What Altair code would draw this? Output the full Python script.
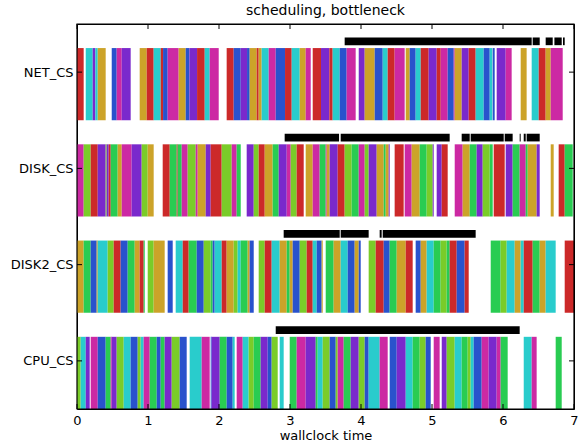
import altair as alt
import pandas as pd

# Row names (y position 0..3 from bottom to top)
ROWS = ["CPU_CS", "DISK2_CS", "DISK_CS", "NET_CS"]
X_TICKS = [0, 1, 2, 3, 4, 5, 6, 7]

COLORS = {
    "red": "#cc2929",
    "gold": "#cca329",
    "lime": "#7acc29",
    "green": "#29cc52",
    "cyan": "#29cccc",
    "blue": "#2952cc",
    "purple": "#7a29cc",
    "magenta": "#cc29a3",
}

NET_CS = [
    (0.000, 0.094, "red"), (0.123, 0.221, "cyan"), (0.221, 0.259, "purple"),
    (0.259, 0.292, "cyan"), (0.292, 0.404, "gold"), (0.489, 0.559, "blue"),
    (0.559, 0.630, "magenta"), (0.630, 0.756, "purple"), (0.883, 0.982, "gold"),
    (0.982, 1.080, "red"), (1.080, 1.179, "cyan"), (1.179, 1.212, "red"),
    (1.212, 1.277, "blue"), (1.277, 1.432, "magenta"), (1.432, 1.531, "gold"),
    (1.531, 1.583, "blue"), (1.583, 1.691, "purple"), (1.691, 1.799, "red"),
    (1.799, 1.869, "cyan"), (1.869, 1.996, "magenta"), (2.108, 2.207, "red"),
    (2.207, 2.306, "blue"), (2.306, 2.395, "purple"), (2.395, 2.432, "blue"),
    (2.432, 2.531, "gold"), (2.531, 2.559, "red"), (2.559, 2.601, "gold"),
    (2.601, 2.700, "cyan"), (2.700, 2.799, "magenta"), (2.799, 2.930, "blue"),
    (2.930, 3.024, "red"), (3.024, 3.137, "cyan"), (3.137, 3.221, "gold"),
    (3.221, 3.292, "magenta"), (3.320, 3.437, "red"), (3.437, 3.554, "purple"),
    (3.554, 3.601, "red"), (3.601, 3.700, "cyan"), (3.700, 3.798, "blue"),
    (3.798, 3.925, "magenta"), (3.968, 4.052, "purple"), (4.052, 4.193, "gold"),
    (4.193, 4.306, "blue"), (4.306, 4.376, "cyan"), (4.376, 4.474, "red"),
    (4.474, 4.615, "magenta"), (4.630, 4.686, "gold"), (4.686, 4.770, "blue"),
    (4.770, 4.841, "cyan"), (4.841, 4.953, "red"), (4.953, 5.066, "purple"),
    (5.066, 5.123, "red"), (5.123, 5.221, "magenta"), (5.221, 5.306, "blue"),
    (5.306, 5.320, "magenta"), (5.320, 5.418, "gold"), (5.418, 5.517, "purple"),
    (5.517, 5.615, "red"), (5.615, 5.728, "cyan"), (5.728, 5.813, "blue"),
    (5.813, 5.850, "cyan"), (5.855, 5.883, "blue"), (5.911, 6.038, "purple"),
    (6.038, 6.122, "magenta"), (6.249, 6.333, "gold"), (6.404, 6.503, "cyan"),
    (6.503, 6.601, "red"), (6.601, 6.672, "gold"), (6.672, 6.841, "magenta"),
]

DISK_CS = [
    (0.000, 0.094, "magenta"), (0.094, 0.193, "lime"), (0.193, 0.292, "red"),
    (0.292, 0.404, "purple"), (0.404, 0.418, "lime"), (0.418, 0.446, "purple"),
    (0.446, 0.475, "red"), (0.475, 0.573, "green"), (0.573, 0.630, "gold"),
    (0.630, 0.770, "magenta"), (0.770, 0.911, "purple"), (0.911, 0.996, "lime"),
    (0.996, 1.080, "gold"), (1.207, 1.306, "red"), (1.306, 1.404, "green"),
    (1.404, 1.418, "red"), (1.418, 1.475, "green"), (1.475, 1.559, "magenta"),
    (1.559, 1.672, "lime"), (1.672, 1.700, "magenta"), (1.700, 1.813, "gold"),
    (1.813, 1.883, "purple"), (1.883, 2.038, "red"), (2.038, 2.179, "lime"),
    (2.179, 2.249, "magenta"), (2.249, 2.306, "green"), (2.390, 2.489, "purple"),
    (2.489, 2.559, "lime"), (2.559, 2.644, "red"), (2.644, 2.756, "gold"),
    (2.756, 2.841, "green"), (2.841, 2.954, "purple"), (2.954, 3.010, "magenta"),
    (3.010, 3.094, "lime"), (3.094, 3.193, "red"), (3.221, 3.320, "gold"),
    (3.320, 3.418, "magenta"), (3.418, 3.503, "green"), (3.503, 3.517, "magenta"),
    (3.517, 3.559, "gold"), (3.559, 3.672, "purple"), (3.672, 3.770, "red"),
    (3.770, 3.869, "lime"), (3.869, 3.968, "green"), (3.968, 4.052, "magenta"),
    (4.052, 4.108, "lime"), (4.108, 4.221, "purple"), (4.221, 4.320, "gold"),
    (4.320, 4.348, "green"), (4.348, 4.390, "gold"), (4.390, 4.404, "purple"),
    (4.474, 4.601, "red"), (4.615, 4.714, "magenta"), (4.714, 4.827, "gold"),
    (4.827, 4.925, "green"), (4.925, 5.010, "lime"), (5.010, 5.024, "purple"),
    (5.066, 5.137, "purple"), (5.137, 5.221, "red"), (5.320, 5.432, "magenta"),
    (5.432, 5.531, "gold"), (5.531, 5.629, "green"), (5.629, 5.714, "purple"),
    (5.714, 5.813, "lime"), (5.813, 5.855, "green"), (5.869, 6.024, "red"),
    (6.038, 6.136, "purple"), (6.136, 6.235, "green"), (6.235, 6.320, "magenta"),
    (6.320, 6.348, "green"), (6.348, 6.474, "gold"), (6.474, 6.517, "purple"),
    (6.672, 6.714, "gold"), (6.784, 6.869, "red"), (6.869, 6.982, "green"),
]

DISK2_CS = [
    (0.000, 0.094, "gold"), (0.094, 0.193, "green"), (0.193, 0.277, "blue"),
    (0.277, 0.292, "gold"), (0.292, 0.432, "cyan"), (0.432, 0.517, "lime"),
    (0.517, 0.615, "red"), (0.615, 0.714, "blue"), (0.714, 0.813, "green"),
    (0.813, 0.883, "gold"), (0.883, 0.939, "red"), (0.939, 0.954, "green"),
    (0.996, 1.080, "lime"), (1.080, 1.235, "gold"), (1.277, 1.348, "blue"),
    (1.390, 1.489, "cyan"), (1.489, 1.573, "red"), (1.573, 1.686, "green"),
    (1.686, 1.785, "blue"), (1.785, 1.883, "lime"), (1.883, 1.911, "green"),
    (1.911, 1.939, "blue"), (1.939, 2.038, "cyan"), (2.038, 2.108, "red"),
    (2.108, 2.207, "gold"), (2.207, 2.263, "lime"), (2.263, 2.306, "cyan"),
    (2.306, 2.404, "green"), (2.404, 2.432, "gold"), (2.432, 2.489, "blue"),
    (2.559, 2.644, "lime"), (2.644, 2.742, "red"), (2.742, 2.855, "cyan"),
    (2.855, 2.954, "gold"), (2.954, 2.996, "green"), (2.996, 3.038, "gold"),
    (3.038, 3.137, "blue"), (3.137, 3.235, "lime"), (3.235, 3.320, "red"),
    (3.320, 3.376, "cyan"), (3.376, 3.446, "blue"), (3.446, 3.461, "gold"),
    (3.503, 3.615, "green"), (3.615, 3.714, "gold"), (3.714, 3.813, "cyan"),
    (3.813, 3.911, "blue"), (3.911, 3.968, "gold"), (3.968, 3.996, "blue"),
    (4.108, 4.207, "lime"), (4.207, 4.320, "red"), (4.320, 4.404, "blue"),
    (4.404, 4.503, "green"), (4.503, 4.630, "gold"), (4.630, 4.728, "red"),
    (4.770, 4.841, "blue"), (4.841, 4.925, "gold"), (4.925, 5.024, "cyan"),
    (5.024, 5.122, "green"), (5.122, 5.207, "lime"), (5.207, 5.249, "green"),
    (5.249, 5.348, "red"), (5.348, 5.460, "blue"), (5.460, 5.517, "red"),
    (5.827, 5.967, "green"), (5.967, 6.052, "lime"), (6.052, 6.165, "cyan"),
    (6.165, 6.249, "gold"), (6.249, 6.292, "cyan"), (6.292, 6.418, "red"),
    (6.418, 6.517, "green"), (6.517, 6.601, "gold"), (6.601, 6.742, "cyan"),
    (6.869, 7.000, "red"),
]

CPU_CS = [
    (0.000, 0.052, "lime"), (0.052, 0.123, "cyan"), (0.123, 0.179, "purple"),
    (0.193, 0.292, "magenta"), (0.292, 0.404, "blue"), (0.404, 0.475, "green"),
    (0.475, 0.489, "magenta"), (0.489, 0.559, "purple"), (0.559, 0.658, "lime"),
    (0.658, 0.756, "cyan"), (0.756, 0.855, "blue"), (0.855, 0.897, "lime"),
    (0.897, 0.939, "cyan"), (0.939, 1.024, "magenta"), (1.024, 1.123, "green"),
    (1.123, 1.179, "blue"), (1.179, 1.235, "green"), (1.235, 1.334, "purple"),
    (1.334, 1.446, "lime"), (1.446, 1.545, "blue"), (1.587, 1.756, "cyan"),
    (1.756, 1.869, "magenta"), (1.883, 1.897, "blue"), (1.897, 2.010, "purple"),
    (2.010, 2.108, "green"), (2.108, 2.193, "blue"), (2.193, 2.221, "cyan"),
    (2.249, 2.334, "magenta"), (2.334, 2.418, "cyan"), (2.418, 2.489, "lime"),
    (2.489, 2.587, "green"), (2.587, 2.686, "purple"), (2.686, 2.742, "blue"),
    (2.742, 2.827, "lime"), (2.855, 2.911, "cyan"), (2.996, 3.094, "green"),
    (3.094, 3.221, "magenta"), (3.221, 3.362, "purple"), (3.362, 3.390, "green"),
    (3.390, 3.461, "cyan"), (3.461, 3.559, "lime"), (3.559, 3.644, "blue"),
    (3.644, 3.672, "lime"), (3.672, 3.756, "magenta"), (3.756, 3.855, "green"),
    (3.855, 3.968, "purple"), (3.968, 4.052, "lime"), (4.052, 4.108, "blue"),
    (4.108, 4.263, "cyan"), (4.263, 4.376, "magenta"), (4.404, 4.503, "blue"),
    (4.503, 4.630, "purple"), (4.630, 4.728, "cyan"), (4.728, 4.827, "green"),
    (4.827, 4.911, "lime"), (4.911, 4.982, "blue"), (5.024, 5.108, "magenta"),
    (5.137, 5.207, "purple"), (5.207, 5.320, "lime"), (5.320, 5.418, "cyan"),
    (5.418, 5.503, "green"), (5.503, 5.545, "lime"), (5.545, 5.587, "cyan"),
    (5.587, 5.700, "blue"), (5.700, 5.798, "magenta"), (5.798, 5.911, "purple"),
    (5.911, 5.967, "magenta"), (5.967, 6.066, "green"), (6.292, 6.404, "cyan"),
    (6.404, 6.474, "magenta"), (6.742, 6.827, "green"),
]

# bottleneck intervals (black bars above each row)
NET_BOTTLENECK = [(3.770, 6.404), (6.418, 6.517), (6.601, 6.700), (6.724, 6.827), (6.845, 6.869)]
DISK_BOTTLENECK = [(2.925, 3.691), (3.714, 5.249), (5.418, 5.531), (5.545, 6.010),
                   (6.024, 6.136), (6.235, 6.249), (6.292, 6.320), (6.333, 6.517)]
DISK2_BOTTLENECK = [(2.911, 3.700), (3.714, 4.108), (4.263, 4.291), (4.306, 5.615)]
CPU_BOTTLENECK = [(2.799, 6.235)]

SEGMENTS = {"CPU_CS": CPU_CS, "DISK2_CS": DISK2_CS, "DISK_CS": DISK_CS, "NET_CS": NET_CS}
BOTTLENECKS = {"CPU_CS": CPU_BOTTLENECK, "DISK2_CS": DISK2_BOTTLENECK,
               "DISK_CS": DISK_BOTTLENECK, "NET_CS": NET_BOTTLENECK}

seg_rows = []
for pos, name in enumerate(ROWS):
    for s, e, c in SEGMENTS[name]:
        seg_rows.append({"row": name, "start": s, "end": e, "color": c,
                         "y0": pos - 0.5, "y1": pos + 0.25})
seg_df = pd.DataFrame(seg_rows)

bn_rows = []
for pos, name in enumerate(ROWS):
    for s, e in BOTTLENECKS[name]:
        bn_rows.append({"row": name, "start": s, "end": e,
                        "y0": pos + 0.28, "y1": pos + 0.36})
bn_df = pd.DataFrame(bn_rows)

xt_df = pd.DataFrame({"start": X_TICKS})
yt_df = pd.DataFrame({"y0": list(range(len(ROWS)))})
frame_df = pd.DataFrame({"frame": [0]})

W, H = 497, 385
xscale = alt.Scale(domain=[0, 7], nice=False, zero=False, padding=0)
yscale = alt.Scale(domain=[-0.5, 3.5], nice=False, zero=False, padding=0)
label_expr = "[" + ",".join("'%s'" % r for r in ROWS) + "][datum.value]"

X_AXIS = alt.Axis(values=X_TICKS, title="wallclock time", grid=False,
                  domain=False, ticks=False, labelPadding=5, labelFlush=False,
                  labelFontSize=13, titleFontSize=13, titleFontWeight="normal",
                  titlePadding=2, labelColor="black", titleColor="black")
Y_AXIS = alt.Axis(values=[0, 1, 2, 3], labelExpr=label_expr, title=None,
                  grid=False, domain=False, ticks=False, labelPadding=4,
                  labelFlush=False, labelFontSize=13, labelColor="black")

segs = alt.Chart(seg_df).mark_rect(strokeWidth=0).encode(
    x=alt.X("start:Q", scale=xscale, axis=X_AXIS),
    x2="end:Q",
    y=alt.Y("y0:Q", scale=yscale, axis=Y_AXIS),
    y2="y1:Q",
    color=alt.Color("color:N", scale=alt.Scale(domain=list(COLORS.keys()),
                                               range=list(COLORS.values())),
                    legend=None),
)

black = alt.Chart(bn_df).mark_rect(color="black", strokeWidth=0).encode(
    x=alt.X("start:Q", scale=xscale, axis=X_AXIS),
    x2="end:Q",
    y=alt.Y("y0:Q", scale=yscale, axis=Y_AXIS),
    y2="y1:Q",
)

xt_top = alt.Chart(xt_df).mark_rule(color="black", strokeWidth=1).encode(
    x=alt.X("start:Q", scale=xscale, axis=X_AXIS), y=alt.value(0), y2=alt.value(5))
xt_bot = alt.Chart(xt_df).mark_rule(color="black", strokeWidth=1).encode(
    x=alt.X("start:Q", scale=xscale, axis=X_AXIS), y=alt.value(H), y2=alt.value(H - 5))
yt_left = alt.Chart(yt_df).mark_rule(color="black", strokeWidth=1).encode(
    y=alt.Y("y0:Q", scale=yscale, axis=Y_AXIS), x=alt.value(0), x2=alt.value(5))
yt_right = alt.Chart(yt_df).mark_rule(color="black", strokeWidth=1).encode(
    y=alt.Y("y0:Q", scale=yscale, axis=Y_AXIS), x=alt.value(W), x2=alt.value(W - 5))

frame = alt.Chart(frame_df).mark_rect(filled=False, stroke="black", strokeWidth=1.2).encode(
    x=alt.value(0), x2=alt.value(W), y=alt.value(0), y2=alt.value(H))

chart = alt.layer(segs, black, xt_top, xt_bot, yt_left, yt_right, frame).properties(
    width=W, height=H,
    title=alt.TitleParams("scheduling, bottleneck", fontSize=14, fontWeight="normal",
                          color="black", offset=5),
    autosize=alt.AutoSizeParams(type="none"),
    padding={"left": 77, "top": 24, "right": 7, "bottom": 36},
).configure(
    font="DejaVu Sans",
).configure_view(
    stroke="black", strokeWidth=1,
)

chart.save("out.html", embed_options={"renderer": "svg", "actions": False})
